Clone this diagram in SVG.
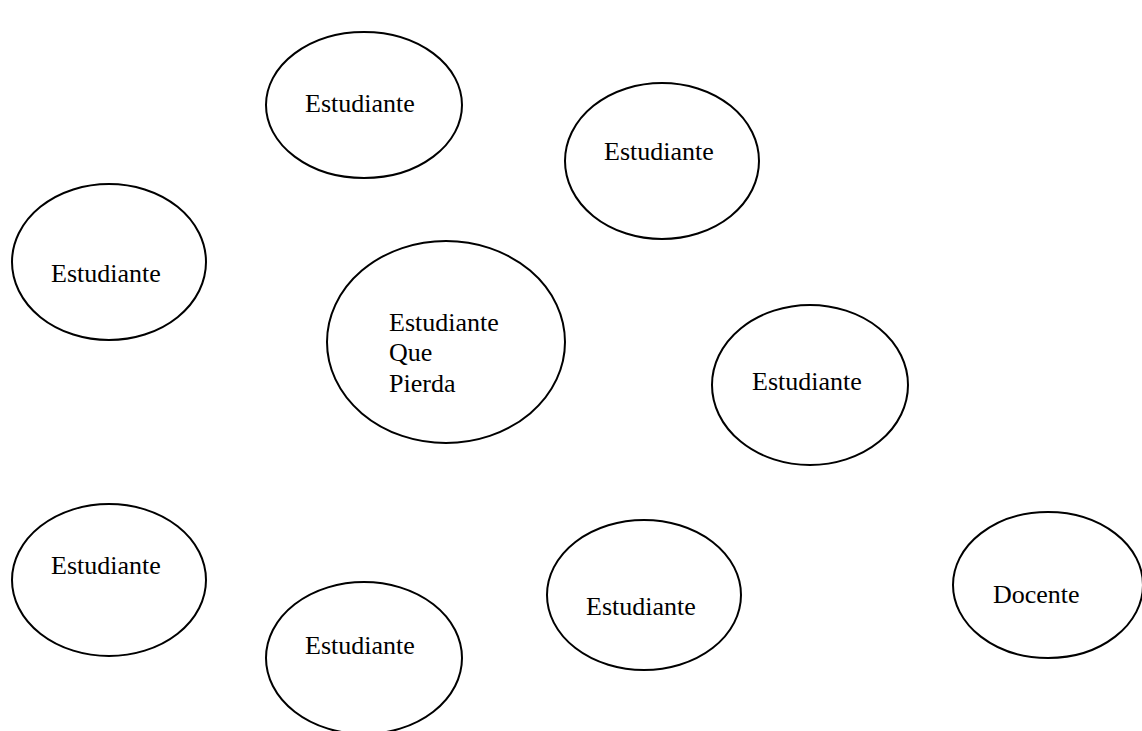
<svg xmlns="http://www.w3.org/2000/svg" width="1142" height="731" viewBox="0 0 1142 731">
  <style>
    .node ellipse { fill: #ffffff; stroke: #000000; stroke-width: 2; }
    .node text { font-family: "Liberation Serif", "Times New Roman", serif; font-size: 26px; fill: #000000; }
  </style>
  <rect width="1142" height="731" fill="#ffffff"/>
  <g id="connectors"></g>
  <g id="n-top" class="node">
    <ellipse cx="364" cy="105" rx="98" ry="73"/>
    <text x="305" y="112">Estudiante</text>
  </g>
  <g id="n-top-right" class="node">
    <ellipse cx="662" cy="161" rx="97" ry="78"/>
    <text x="604" y="160">Estudiante</text>
  </g>
  <g id="n-left" class="node">
    <ellipse cx="109" cy="262" rx="97" ry="78"/>
    <text x="51" y="282">Estudiante</text>
  </g>
  <g id="n-center" class="node">
    <ellipse cx="446" cy="342" rx="119" ry="101"/>
    <!-- small break in the outline at the lower right -->
    <path d="M543,403 L549,411" stroke="#ffffff" stroke-width="5"/>
    <text x="389" y="331">Estudiante</text>
    <text x="389" y="361">Que</text>
    <text x="389" y="392">Pierda</text>
  </g>
  <g id="n-right" class="node">
    <ellipse cx="810" cy="385" rx="98" ry="80"/>
    <text x="752" y="390">Estudiante</text>
  </g>
  <g id="n-bottom-left" class="node">
    <ellipse cx="109" cy="580" rx="97" ry="76"/>
    <text x="51" y="574">Estudiante</text>
  </g>
  <g id="n-bottom-mid" class="node">
    <ellipse cx="364" cy="658" rx="98" ry="76"/>
    <text x="305" y="654">Estudiante</text>
  </g>
  <g id="n-bottom-center" class="node">
    <ellipse cx="644" cy="595" rx="97" ry="75"/>
    <text x="586" y="615">Estudiante</text>
  </g>
  <g id="n-docente" class="node">
    <ellipse cx="1048" cy="585" rx="95" ry="73"/>
    <text x="993" y="603">Docente</text>
  </g>
</svg>
